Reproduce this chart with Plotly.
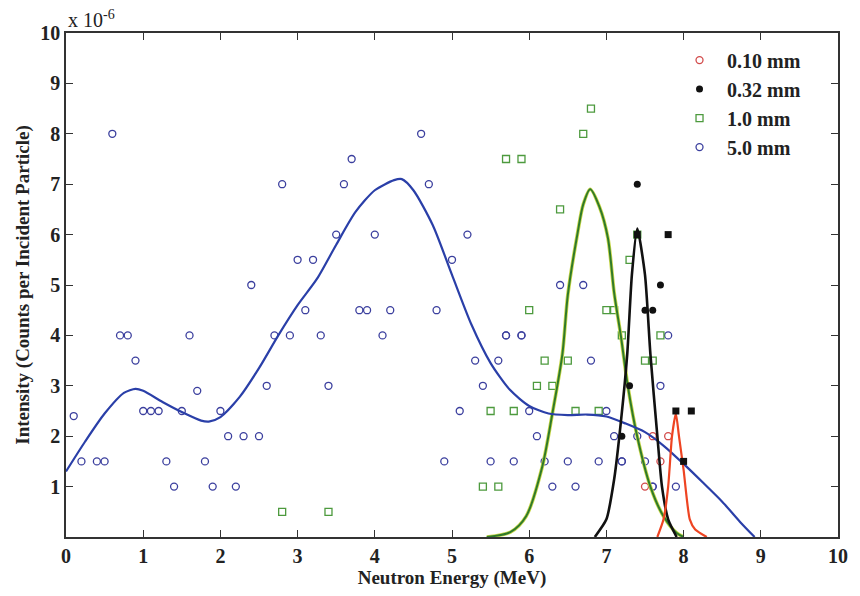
import plotly.graph_objects as go

# ---- scatter data (intensity in units of 1e-6) ----
x_5mm = [0.1, 0.2, 0.4, 0.5, 0.6, 0.7, 0.8, 0.9, 1.0, 1.1, 1.2, 1.3, 1.4, 1.5, 1.6, 1.7, 1.8, 1.9,
         2.0, 2.1, 2.2, 2.3, 2.4, 2.5, 2.6, 2.7, 2.8, 2.9, 3.0, 3.1, 3.2, 3.3, 3.4, 3.5, 3.6, 3.7,
         3.8, 3.9, 4.0, 4.1, 4.2, 4.6, 4.7, 4.8, 4.9, 5.0, 5.1, 5.2, 5.3, 5.4, 5.5, 5.6, 5.7, 5.8,
         5.9, 6.0, 6.1, 6.2, 6.3, 6.4, 6.5, 6.6, 6.7, 6.8, 6.9, 7.0, 7.1, 7.2, 7.4, 7.5, 7.6, 7.7,
         7.8, 7.9]
y_5mm = [2.4, 1.5, 1.5, 1.5, 8.0, 4.0, 4.0, 3.5, 2.5, 2.5, 2.5, 1.5, 1.0, 2.5, 4.0, 2.9, 1.5, 1.0,
         2.5, 2.0, 1.0, 2.0, 5.0, 2.0, 3.0, 4.0, 7.0, 4.0, 5.5, 4.5, 5.5, 4.0, 3.0, 6.0, 7.0, 7.5,
         4.5, 4.5, 6.0, 4.0, 4.5, 8.0, 7.0, 4.5, 1.5, 5.5, 2.5, 6.0, 3.5, 3.0, 1.5, 3.5, 4.0, 1.5,
         4.0, 2.5, 2.0, 1.5, 1.0, 5.0, 1.5, 1.0, 5.0, 3.5, 1.5, 2.5, 2.0, 1.5, 2.0, 1.5, 1.0, 3.0,
         4.0, 1.0]
# second row of 5.0 mm circles at the same energies
x_5mm_b = [7.2, 5.7, 5.9, 7.6]
y_5mm_b = [1.5, 4.0, 4.0, 1.0]

x_1mm = [2.8, 3.4, 5.4, 5.5, 5.6, 5.7, 5.8, 5.9, 6.0, 6.1, 6.2, 6.3, 6.4, 6.5, 6.6, 6.7, 6.8,
         6.9, 7.0, 7.1, 7.2, 7.3, 7.4, 7.5, 7.6, 7.7]
y_1mm = [0.5, 0.5, 1.0, 2.5, 1.0, 7.5, 2.5, 7.5, 4.5, 3.0, 3.5, 3.0, 6.5, 3.5, 2.5, 8.0, 8.5,
         2.5, 4.5, 4.5, 4.0, 5.5, 6.0, 3.5, 3.5, 4.0]

x_032mm = [7.2, 7.3, 7.4, 7.5, 7.6, 7.7, 7.4, 7.8, 7.9, 8.1, 8.0]
y_032mm = [2.0, 3.0, 7.0, 4.5, 4.5, 5.0, 6.0, 6.0, 2.5, 2.5, 1.5]
sym_032mm = ["circle"] * 6 + ["square"] * 5

x_010mm = [7.5, 7.6, 7.7, 7.8]
y_010mm = [1.0, 2.0, 1.5, 2.0]

# ---- fitted curves ----
cx_5mm = [0.0, 0.25, 0.5, 0.75, 0.9, 1.0, 1.25, 1.5, 1.75, 1.85, 2.0, 2.25, 2.5, 2.75, 3.0,
          3.25, 3.5, 3.75, 4.0, 4.25, 4.35, 4.5, 4.75, 5.0, 5.25, 5.5, 5.75, 6.0, 6.25, 6.5,
          6.75, 7.0, 7.25, 7.5, 7.75, 8.0, 8.25, 8.5, 8.75, 8.92]
cy_5mm = [1.3, 1.9, 2.45, 2.86, 2.94, 2.9, 2.68, 2.48, 2.31, 2.29, 2.38, 2.78, 3.35, 4.0, 4.6,
          5.12, 5.8, 6.45, 6.88, 7.08, 7.1, 6.88, 6.19, 5.2, 4.22, 3.45, 2.92, 2.6, 2.45, 2.42,
          2.43, 2.39, 2.25, 2.08, 1.8, 1.45, 1.08, 0.7, 0.27, 0.0]

cx_1mm = [5.45, 5.76, 5.96, 6.17, 6.3, 6.43, 6.5, 6.63, 6.7, 6.79, 6.91, 7.02, 7.1, 7.19, 7.28,
          7.4, 7.57, 7.74, 7.91, 8.0]
cy_1mm = [0.0, 0.1, 0.41, 1.4, 2.45, 3.63, 4.8, 6.06, 6.6, 6.9, 6.55, 5.93, 4.85, 3.96, 2.97,
          1.99, 1.0, 0.41, 0.08, 0.0]

cx_032mm = [6.85, 7.0, 7.1, 7.19, 7.27, 7.33, 7.4, 7.5, 7.57, 7.66, 7.72, 7.8, 7.91]
cy_032mm = [0.0, 0.35, 1.14, 2.32, 3.63, 5.2, 6.12, 5.2, 3.63, 2.0, 1.0, 0.35, 0.0]

cx_010mm = [7.66, 7.74, 7.8, 7.85, 7.9, 7.94, 8.0, 8.08, 8.15, 8.3]
cy_010mm = [0.0, 0.35, 1.0, 2.0, 2.45, 2.0, 1.33, 0.35, 0.15, 0.0]

x_ticks = list(range(0, 11))
y_ticks = list(range(1, 11))

BLUE = "#3b3f9e"
BLUE_LINE = "#2a3fa8"
GREEN = "#4d9a3e"
RED = "#d24a4a"
SERIF = "Liberation Serif, Times New Roman, serif"
TXT = "#222222"

fig = go.Figure()

circ = dict(size=7, line=dict(width=1.3))
fig.add_trace(go.Scatter(x=x_5mm + x_5mm_b, y=y_5mm + y_5mm_b, mode="markers", name="5.0 mm",
                         marker=dict(symbol="circle-open", color=BLUE, **circ), legendrank=4))
fig.add_trace(go.Scatter(x=x_1mm, y=y_1mm, mode="markers", name="1.0 mm",
                         marker=dict(symbol="square-open", color=GREEN, size=7, line=dict(width=1.3)),
                         legendrank=3))
fig.add_trace(go.Scatter(x=x_010mm, y=y_010mm, mode="markers", name="0.10 mm",
                         marker=dict(symbol="circle-open", color=RED, **circ), legendrank=1))

# curves
fig.add_trace(go.Scatter(x=cx_1mm, y=cy_1mm, mode="lines", showlegend=False,
                         line=dict(color="#c9d84a", width=3.6, shape="spline", smoothing=0.8)))
fig.add_trace(go.Scatter(x=cx_1mm, y=cy_1mm, mode="lines", showlegend=False,
                         line=dict(color="#2f7a2a", width=2, shape="spline", smoothing=0.8)))
fig.add_trace(go.Scatter(x=cx_5mm, y=cy_5mm, mode="lines", showlegend=False,
                         line=dict(color=BLUE_LINE, width=2.2, shape="spline", smoothing=0.7)))
fig.add_trace(go.Scatter(x=cx_032mm, y=cy_032mm, mode="lines", showlegend=False,
                         line=dict(color="#111111", width=2.6, shape="spline", smoothing=0.6)))
fig.add_trace(go.Scatter(x=cx_010mm, y=cy_010mm, mode="lines", showlegend=False,
                         line=dict(color="#ee4422", width=2.2, shape="spline", smoothing=0.6)))

fig.add_trace(go.Scatter(x=x_032mm, y=y_032mm, mode="markers", name="0.32 mm",
                         marker=dict(symbol=sym_032mm, color="#111111", size=7), legendrank=2))

axis_common = dict(
    showgrid=False, zeroline=False, showline=True, linecolor="#333333", linewidth=1.5,
    mirror="ticks", ticks="inside", ticklen=7, tickwidth=1.3, tickcolor="#333333",
    tickfont=dict(family=SERIF, size=20, color=TXT, weight="bold"),
)

fig.update_layout(
    width=860, height=596,
    margin=dict(l=66, r=12, t=33, b=55),
    paper_bgcolor="white", plot_bgcolor="white",
    showlegend=True,
    legend=dict(x=0.785, y=0.985, xanchor="left", yanchor="top", bgcolor="rgba(0,0,0,0)",
                font=dict(family=SERIF, size=20, color=TXT, weight="bold"),
                itemwidth=45, tracegroupgap=2),
    xaxis=dict(range=[0, 10], tickvals=x_ticks, ticktext=[str(v) for v in x_ticks],
               title=dict(text="Neutron Energy (MeV)", standoff=4,
                          font=dict(family=SERIF, size=19, color=TXT, weight="bold")),
               **axis_common),
    yaxis=dict(range=[0, 10], tickvals=y_ticks, ticktext=[str(v) for v in y_ticks],
               title=dict(text="Intensity (Counts per Incident Particle)", standoff=6,
                          font=dict(family=SERIF, size=19, color=TXT, weight="bold")),
               **axis_common),
    annotations=[dict(text="x 10<sup>-6</sup>", xref="paper", yref="paper", x=0.0, y=1.0,
                      xanchor="left", yanchor="bottom", showarrow=False,
                      font=dict(family=SERIF, size=20, color=TXT))],
)

fig.write_html("out.html")
